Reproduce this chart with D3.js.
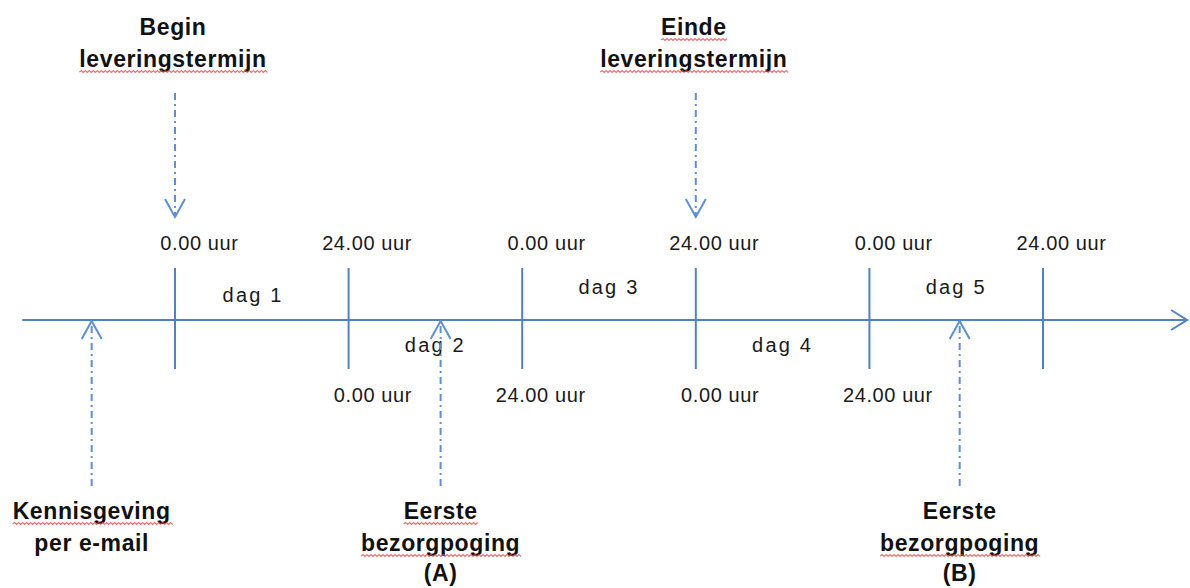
<!DOCTYPE html>
<html>
<head>
<meta charset="utf-8">
<script src="https://cdn.jsdelivr.net/npm/d3@7/dist/d3.min.js"></script>
<style>
  html, body { margin: 0; padding: 0; background: #fff; }
  svg { display: block; }
</style>
</head>
<body>
<svg id="chart" width="1190" height="588"></svg>
<script>
// ---------------- DATA ----------------
const dayBoundaries = [0, 1, 2, 3, 4, 5];
const topHourLabels = ["0.00 uur", "24.00 uur", "0.00 uur", "24.00 uur", "0.00 uur", "24.00 uur"];
const bottomHourLabels = [null, "0.00 uur", "24.00 uur", "0.00 uur", "24.00 uur", null];
const dayLabels = ["dag 1", "dag 2", "dag 3", "dag 4", "dag 5"];
const dayLabelAt = [0.45, 1.5, 2.5, 3.5, 4.5];
const dayLabelSide = ["top", "bottom", "top", "bottom", "top"];

const milestoneLabels = [["Begin", "leveringstermijn"], ["Einde", "leveringstermijn"]];
const milestoneAt = [0, 3];
const milestoneSquiggle = [[false, true], [true, true]];

const eventLabels = [["Kennisgeving", "per e-mail"], ["Eerste", "bezorgpoging", "(A)"], ["Eerste", "bezorgpoging", "(B)"]];
const eventAt = [-0.48, 1.53, 4.52];
const eventSquiggle = [[true, false], [true, true, false], [false, true, false]];

const axisExtent = [-0.88, 5.83];

// ---------------- LAYOUT ----------------
const svg = d3.select("#chart");
const x = d3.scaleLinear().domain([0, 5]).range([175, 1043]);
const axisY = 320;
const lineColor = "#4f81c7";
const dashColor = "#5b8fd6";
const regFont = "'Liberation Sans', Arial, sans-serif";
const boldFont = "'Liberation Sans', Arial, sans-serif";

// main axis
svg.append("line")
  .attr("x1", x(axisExtent[0])).attr("x2", x(axisExtent[1]))
  .attr("y1", axisY).attr("y2", axisY)
  .attr("stroke", lineColor).attr("stroke-width", 2);
// arrowhead (open chevron)
const ax = x(axisExtent[1]);
svg.append("path")
  .attr("d", `M${ax - 16},${axisY - 10} L${ax},${axisY} L${ax - 16},${axisY + 10}`)
  .attr("fill", "none").attr("stroke", lineColor).attr("stroke-width", 2);

// day boundary ticks
svg.selectAll("line.tick").data(dayBoundaries).enter().append("line")
  .attr("class", "tick")
  .attr("x1", d => x(d)).attr("x2", d => x(d))
  .attr("y1", 268).attr("y2", 369)
  .attr("stroke", lineColor).attr("stroke-width", 2);

// hour labels
function hourLabel(label, tx, y) {
  const i = label.indexOf(".");
  const g = svg.append("g");
  g.append("text").attr("x", tx - 3).attr("y", y)
    .attr("text-anchor", "end")
    .attr("font-family", regFont).attr("font-size", 20)
    .attr("letter-spacing", 0.6).attr("fill", "#1a1a1a")
    .text(label.slice(0, i));
  g.append("text").attr("x", tx - 3).attr("y", y)
    .attr("text-anchor", "start")
    .attr("font-family", regFont).attr("font-size", 20)
    .attr("letter-spacing", 0.6).attr("fill", "#1a1a1a")
    .text(label.slice(i));
}
dayBoundaries.forEach((d, i) => {
  if (topHourLabels[i]) hourLabel(topHourLabels[i], x(d), 250);
  if (bottomHourLabels[i]) hourLabel(bottomHourLabels[i], x(d), 402);
});

// day labels
svg.selectAll("text.day").data(dayLabels).enter().append("text")
  .attr("class", "day")
  .attr("x", (d, i) => x(dayLabelAt[i]))
  .attr("y", (d, i) => dayLabelSide[i] === "top" ? (i === 0 ? 302 : 294) : 352)
  .attr("text-anchor", "middle")
  .attr("font-family", regFont).attr("font-size", 20)
  .attr("letter-spacing", 2.2).attr("fill", "#1a1a1a")
  .text(d => d);

function boldLines(lines, cx, baselines, sq) {
  lines.forEach((t, j) => {
    const node = svg.append("text")
      .attr("x", cx).attr("y", baselines[j])
      .attr("text-anchor", "middle")
      .attr("font-family", boldFont).attr("font-weight", "bold")
      .attr("font-size", 23).attr("letter-spacing", 0.6).attr("fill", "#111")
      .text(t).node();
    if (sq[j]) {
      const b = node.getBBox();
      const y0 = baselines[j] + 5;
      let d = `M${b.x},${y0}`;
      for (let xx = b.x, k = 0; xx < b.x + b.width; xx += 2, k++) {
        d += ` L${xx + 2},${y0 + (k % 2 === 0 ? -1.5 : 0.5)}`;
      }
      svg.append("path").attr("d", d).attr("fill", "none")
        .attr("stroke", "#ea4a48").attr("stroke-width", 1.1).attr("opacity", 0.8);
    }
  });
}

// dashed arrows
function dashedArrow(px, yFrom, yTip, dir) {
  svg.append("line")
    .attr("x1", px).attr("x2", px).attr("y1", yFrom).attr("y2", yTip)
    .attr("stroke", dashColor).attr("stroke-width", 2)
    .attr("stroke-dasharray", "7,4,2,4");
  const s = dir === "down" ? -1 : 1;
  svg.append("path")
    .attr("d", `M${px - 10},${yTip + s * 18} L${px},${yTip} L${px + 10},${yTip + s * 18}`)
    .attr("fill", "none").attr("stroke", dashColor).attr("stroke-width", 2);
}

// milestones (top)
milestoneLabels.forEach((lines, i) => {
  const px = x(milestoneAt[i]);
  dashedArrow(px, 93, 217, "down");
  boldLines(lines, px - 2, [35, 67], milestoneSquiggle[i]);
});

// events (bottom)
eventLabels.forEach((lines, i) => {
  const px = x(eventAt[i]);
  dashedArrow(px, 486, axisY + 1, "up");
  boldLines(lines, px, [519, 551, 581], eventSquiggle[i]);
});
</script>
</body>
</html>
